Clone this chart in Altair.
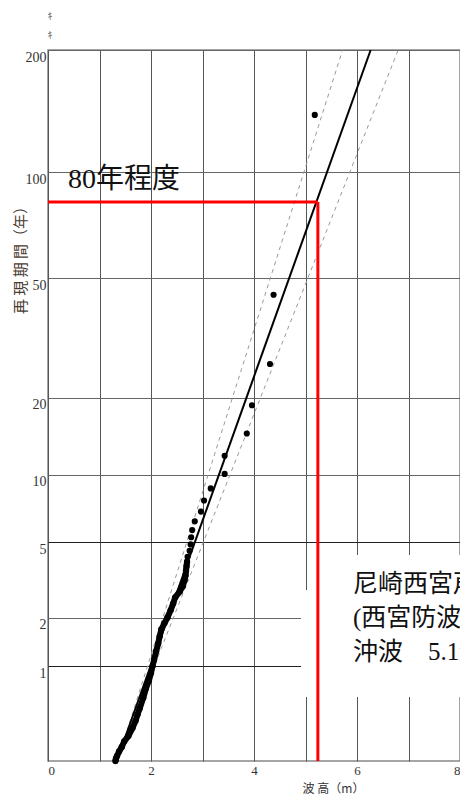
import altair as alt
import pandas as pd

# ---- data ----
# isolated plotted points: wave height (m) and return period (years)
wave_scatter = [5.18, 4.38, 4.31, 3.96, 3.86, 3.43, 3.43, 3.16, 3.03, 2.97,
                2.85, 2.80, 2.78, 2.77, 2.75, 2.71]
period_scatter = [140, 44.5, 26.4, 18.8, 14.7, 12.0, 10.1, 8.77, 7.77, 6.93,
                  6.26, 5.70, 5.27, 4.87, 4.53, 4.23]

# dense part of the plotted sample (read along the cluster)
wave_dense = [2.70, 2.69, 2.68, 2.67, 2.65, 2.62, 2.56, 2.47, 2.43, 2.38, 2.32,
              2.26, 2.20, 2.17, 2.14, 2.10, 2.06, 2.03, 2.00, 1.96, 1.90, 1.85,
              1.78, 1.74, 1.70, 1.64, 1.56, 1.48, 1.43, 1.38, 1.34, 1.32, 1.31]
period_dense = [4.0, 3.8, 3.6, 3.4, 3.2, 3.0, 2.8, 2.6, 2.4, 2.2, 2.0,
                1.85, 1.7, 1.55, 1.4, 1.25, 1.1, 1.0, 0.9, 0.8, 0.7, 0.6,
                0.5, 0.45, 0.4, 0.35, 0.3, 0.27, 0.24, 0.22, 0.2, 0.19, 0.18]

# fitted line and dashed confidence bands
line_period = [0.18, 200]
fit_wave = [1.334, 6.265]
band_left_wave = [1.349, 5.720]
band_right_wave = [1.334, 6.799]

design_wave = 5.24
design_period = 83
period_min = 0.18

y_ticks = [1, 2, 5, 10, 20, 50, 100, 200]
x_ticks = [0, 1, 2, 3, 4, 5, 6, 7, 8]

SERIF = "'Liberation Serif', 'Noto Sans CJK JP'"
CJK = "'Noto Sans CJK JP'"

x_scale = alt.Scale(domain=[0, 8], nice=False, zero=False)
y_scale = alt.Scale(type="pow", exponent=0.2, domain=[period_min, 200],
                    nice=False, zero=False)

x_axis = alt.Axis(values=x_ticks, grid=True, ticks=False, domain=False,
                  labelExpr="datum.value % 2 == 0 ? datum.label : ''",
                  labelFont=SERIF, labelFontSize=13, labelColor="#333",
                  labelPadding=3, labelBaseline="top",
                  gridColor="#555", gridWidth=1,
                  title="波 高（m）", titleFont=CJK, titleFontSize=12,
                  titleFontWeight="normal", titleColor="#333",
                  titleX=285, titleY=27, titleBaseline="middle",
                  titleAlign="center")
y_axis = alt.Axis(values=y_ticks, grid=True, ticks=False, domain=False,
                  labelFont=SERIF, labelFontSize=14, labelColor="#333",
                  labelPadding=2, labelBaseline="top", labelAlign="right",
                  gridColor={"condition": {"test": "datum.value === 5 || datum.value === 1",
                                           "value": "#222"}, "value": "#666"},
                  gridWidth=1,
                  title="再 現 期 間（年）", titleFont=CJK, titleFontSize=15,
                  titleFontWeight="normal", titleColor="#4a3c30",
                  titleX=-28, titleY=206, titleAngle=270,
                  titleBaseline="middle", titleAlign="center")


def X(field):
    return alt.X(f"{field}:Q", scale=x_scale, axis=x_axis)


def Y(field):
    return alt.Y(f"{field}:Q", scale=y_scale, axis=y_axis)


one = pd.DataFrame({"k": [0]})

df_scatter = pd.DataFrame({"wave": wave_scatter, "period": period_scatter})
df_dense = pd.DataFrame({"wave": wave_dense, "period": period_dense,
                         "i": list(range(len(wave_dense)))})
df_fit = pd.DataFrame({"wave": fit_wave, "period": line_period})
df_bl = pd.DataFrame({"wave": band_left_wave, "period": line_period})
df_br = pd.DataFrame({"wave": band_right_wave, "period": line_period})
df_h = pd.DataFrame({"w0": [0], "wave": [design_wave], "period": [design_period]})
df_v = pd.DataFrame({"wave": [design_wave], "period": [design_period],
                     "p0": [period_min]})

# base layer carrying axes
base = alt.Chart(df_fit).mark_line(color="black", strokeWidth=2).encode(
    x=X("wave"), y=Y("period"))

# white boxes behind the annotation
box1 = alt.Chart(one).mark_rect(fill="white").encode(
    x=alt.value(253), x2=alt.value(420), y=alt.value(540), y2=alt.value(647))
box2 = alt.Chart(one).mark_rect(fill="white").encode(
    x=alt.value(286), x2=alt.value(420), y=alt.value(505), y2=alt.value(628))

band_l = alt.Chart(df_bl).mark_line(color="#999", strokeWidth=1,
                                    strokeDash=[4, 4]).encode(
    x=X("wave"), y=Y("period"))
band_r = alt.Chart(df_br).mark_line(color="#999", strokeWidth=1,
                                    strokeDash=[4, 4]).encode(
    x=X("wave"), y=Y("period"))

dense_line = alt.Chart(df_dense).mark_line(color="black", strokeWidth=6,
                                           strokeCap="round",
                                           strokeJoin="round").encode(
    x=X("wave"), y=Y("period"), order="i:Q")
dense_pts = alt.Chart(df_dense).mark_circle(color="black", size=40,
                                            opacity=1).encode(
    x=X("wave"), y=Y("period"))
pts = alt.Chart(df_scatter).mark_circle(color="black", size=38,
                                        opacity=1).encode(
    x=X("wave"), y=Y("period"))

red_h = alt.Chart(df_h).mark_rule(color="#ff0000", strokeWidth=3).encode(
    x=X("w0"), x2="wave:Q", y=Y("period"))
red_v = alt.Chart(df_v).mark_rule(color="#ff0000", strokeWidth=3).encode(
    x=X("wave"), y=Y("period"), y2="p0:Q")

label80 = alt.Chart(one).mark_text(text="80年程度", font=SERIF, fontSize=28,
                                   align="left", baseline="middle",
                                   color="#111").encode(
    x=alt.value(20), y=alt.value(130))

box_text = alt.Chart(one).mark_text(
    text=["尼崎西宮芦屋港", "(西宮防波堤)", "沖波　5.1m"],
    font=SERIF, fontSize=25, lineHeight=34, align="left", baseline="top",
    color="#111").encode(x=alt.value(305), y=alt.value(522))

marks_top = alt.Chart(one).mark_text(
    text=["ｷ", "ｷ"], font=CJK, fontSize=10, lineHeight=19, align="center",
    baseline="top", color="#666").encode(x=alt.value(2), y=alt.value(-38))

chart = alt.layer(
    box1, box2, band_l, band_r, base, dense_line, dense_pts, pts,
    red_h, red_v, label80, box_text, marks_top
).properties(
    width=412, height=711,
    autosize=alt.AutoSizeParams(type="none"),
    padding={"left": 40, "top": 42, "right": 0, "bottom": 33},
    background="white",
).configure_view(stroke="#888", strokeWidth=1.5)

chart.save("out.html", embed_options={"renderer": "svg", "actions": False})
